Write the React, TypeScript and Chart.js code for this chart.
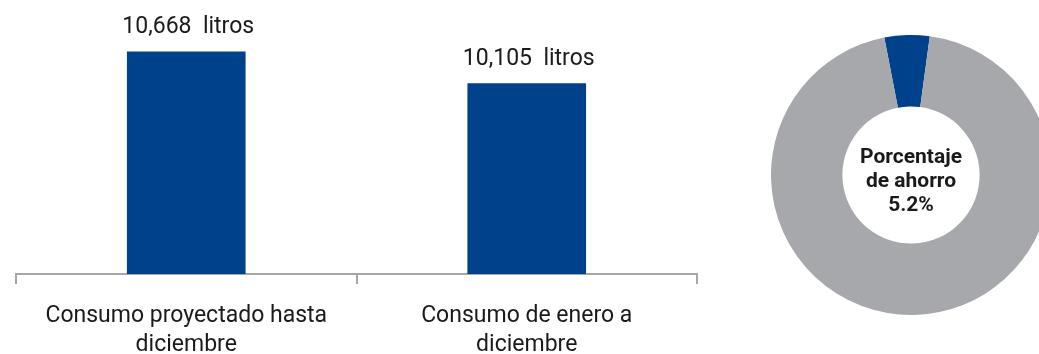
import React, { useEffect, useRef } from "react";
import { Chart, registerables } from "chart.js";

Chart.register(...registerables);

// Consumption data (litres)
const categories: string[][] = [
  ["Consumo proyectado hasta", "diciembre"],
  ["Consumo de enero a", "diciembre"],
];
const consumption: number[] = [10668, 10105];
const unit = "litros";

// Savings share (percent) shown in the ring
const ringLabels: string[] = ["Ahorro", "Consumo"];
const savingsShare: number[] = [5.2, 94.8];
const centerCaption: string[] = ["Porcentaje", "de ahorro"];

const BLUE = "#00418C";
const GRAY = "#A6A8AB";
const AXIS = "#A6A6A6";
const TEXT = "#1A1A1A";
const FONT = "Roboto, 'Noto Sans', sans-serif";

const valueLabels = {
  id: "valueLabels",
  afterDatasetsDraw(chart: any) {
    const { ctx } = chart;
    const meta = chart.getDatasetMeta(0);
    const values = chart.data.datasets[0].data as number[];
    ctx.save();
    ctx.font = `23px ${FONT}`;
    ctx.fillStyle = TEXT;
    ctx.textAlign = "center";
    ctx.textBaseline = "alphabetic";
    meta.data.forEach((bar: any, i: number) => {
      const text = `${values[i].toLocaleString("en-US")}  ${unit}`;
      ctx.fillText(text, bar.x + 2, bar.y - 19);
    });
    ctx.restore();
  },
};

const centerText = {
  id: "centerText",
  afterDraw(chart: any) {
    const { ctx } = chart;
    const arc = chart.getDatasetMeta(0).data[0];
    if (!arc) return;
    const cx = arc.x;
    const cy = arc.y;
    const lines = [...centerCaption, `${savingsShare[0]}%`];
    ctx.save();
    ctx.font = `bold 21px ${FONT}`;
    ctx.fillStyle = TEXT;
    ctx.textAlign = "center";
    ctx.textBaseline = "alphabetic";
    lines.forEach((line, i) => {
      ctx.fillText(line, cx, cy - 12 + i * 24);
    });
    ctx.restore();
  },
};

export default function App() {
  const barRef = useRef<HTMLCanvasElement>(null);
  const ringRef = useRef<HTMLCanvasElement>(null);

  useEffect(() => {
    const barChart = new Chart(barRef.current!, {
      type: "bar",
      data: {
        labels: categories,
        datasets: [
          {
            data: consumption,
            backgroundColor: BLUE,
            borderWidth: 0,
            barThickness: 118,
          },
        ],
      },
      options: {
        animation: false,
        responsive: false,
        maintainAspectRatio: false,
        layout: { padding: { left: 16, right: 23, top: 0, bottom: 0 } },
        plugins: {
          legend: { display: false },
          tooltip: { enabled: false },
        },
        scales: {
          x: {
            grid: {
              drawOnChartArea: false,
              drawTicks: true,
              tickLength: 10,
              color: AXIS,
              lineWidth: 2,
              offset: true,
            },
            border: { display: true, color: AXIS, width: 2 },
            ticks: {
              color: TEXT,
              font: { family: FONT, size: 23, lineHeight: 1.26 },
              padding: 18,
              maxRotation: 0,
              autoSkip: false,
            },
            afterFit: (scale: any) => {
              scale.height = 80;
            },
          },
          y: { display: false, min: 6750, max: 11580 },
        },
      },
      plugins: [valueLabels],
    } as any);

    const ringChart = new Chart(ringRef.current!, {
      type: "doughnut",
      data: {
        labels: ringLabels,
        datasets: [
          {
            data: savingsShare,
            backgroundColor: [BLUE, GRAY],
            borderWidth: 0,
            hoverOffset: 0,
          },
        ],
      },
      options: {
        animation: false,
        responsive: false,
        maintainAspectRatio: false,
        cutout: "49%",
        rotation: -11,
        layout: { padding: 0 },
        plugins: {
          legend: { display: false },
          tooltip: { enabled: false },
        },
      },
      plugins: [centerText],
    } as any);

    return () => {
      barChart.destroy();
      ringChart.destroy();
    };
  }, []);

  return (
    <div
      style={{
        position: "fixed",
        left: 0,
        top: 0,
        width: 1039,
        height: 354,
        overflow: "hidden",
        background: "#fff",
      }}
    >
      <canvas
        ref={barRef}
        width={720}
        height={354}
        style={{ position: "absolute", left: 0, top: 0, width: 720, height: 354 }}
      />
      <canvas
        ref={ringRef}
        width={280}
        height={280}
        style={{ position: "absolute", left: 771, top: 35, width: 280, height: 280 }}
      />
    </div>
  );
}
